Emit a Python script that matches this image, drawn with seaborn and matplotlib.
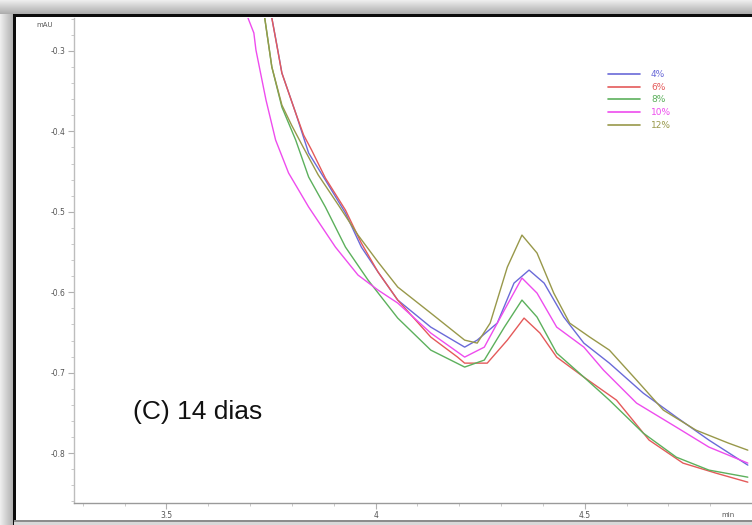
import numpy as np
import pandas as pd
import matplotlib
matplotlib.use("Agg")
import matplotlib.pyplot as plt
import seaborn as sns
from matplotlib.lines import Line2D

# ---- data (retention time in min, signal in mAU) ----
labels = ["4%", "6%", "8%", "10%", "12%"]
colors = ["#6a6ad8", "#e45a5a", "#5cb05c", "#ee4cee", "#98984a"]

x_4 = [3.752, 3.764, 3.776, 3.809, 3.840, 3.880, 3.928, 3.966, 4.006, 4.053, 4.132, 4.213,
       4.243, 4.291, 4.331, 4.367, 4.403, 4.450, 4.498, 4.559, 4.640, 4.719, 4.797, 4.890]
y_4 = [-0.259, -0.2925, -0.3274, -0.3771, -0.4269, -0.4604, -0.5015, -0.5438, -0.5749, -0.6097,
       -0.6433, -0.6682, -0.6595, -0.6383, -0.5886, -0.5724, -0.5886, -0.6308, -0.6632, -0.6881,
       -0.7254, -0.7552, -0.7838, -0.8149]

x_6 = [3.752, 3.776, 3.809, 3.828, 3.847, 3.880, 3.928, 3.966, 4.006, 4.053, 4.132, 4.196,
       4.213, 4.267, 4.315, 4.355, 4.393, 4.433, 4.498, 4.576, 4.654, 4.735, 4.814, 4.890]
y_6 = [-0.259, -0.3274, -0.3771, -0.4045, -0.4231, -0.4580, -0.4978, -0.5388, -0.5749, -0.6097,
       -0.6557, -0.6806, -0.6881, -0.6881, -0.6595, -0.6321, -0.6507, -0.6806, -0.7055, -0.7341,
       -0.7838, -0.8124, -0.8249, -0.8361]

x_8 = [3.735, 3.752, 3.776, 3.809, 3.840, 3.880, 3.928, 3.982, 4.053, 4.132, 4.213, 4.260,
       4.308, 4.350, 4.386, 4.433, 4.498, 4.559, 4.640, 4.719, 4.797, 4.890]
y_8 = [-0.259, -0.3199, -0.3697, -0.4107, -0.4567, -0.4940, -0.5438, -0.5848, -0.6321, -0.6719,
       -0.6930, -0.6843, -0.6433, -0.6097, -0.6308, -0.6756, -0.7055, -0.7341, -0.7751, -0.8050,
       -0.8211, -0.8299]

x_10 = [3.695, 3.709, 3.714, 3.726, 3.738, 3.761, 3.792, 3.840, 3.904, 3.958, 4.006, 4.053, 4.132,
        4.213, 4.260, 4.308, 4.350, 4.386, 4.433, 4.498, 4.545, 4.624, 4.719, 4.797, 4.890]
y_10 = [-0.259, -0.2776, -0.2988, -0.3299, -0.3609, -0.4107, -0.4517, -0.4940, -0.5438, -0.5786,
        -0.5973, -0.6134, -0.6507, -0.6806, -0.6682, -0.6221, -0.5823, -0.6010, -0.6433, -0.6682,
        -0.6968, -0.7378, -0.7677, -0.7925, -0.8124]

x_12 = [3.735, 3.752, 3.776, 3.799, 3.828, 3.863, 3.911, 3.958, 4.006, 4.053, 4.132, 4.213, 4.243,
        4.274, 4.315, 4.350, 4.386, 4.426, 4.464, 4.512, 4.559, 4.624, 4.688, 4.766, 4.844, 4.890]
y_12 = [-0.259, -0.3199, -0.3672, -0.3920, -0.4206, -0.4542, -0.4915, -0.5289, -0.5624, -0.5935,
        -0.6259, -0.6595, -0.6632, -0.6383, -0.5687, -0.5289, -0.5512, -0.6010, -0.6383, -0.6557,
        -0.6719, -0.7092, -0.7465, -0.7714, -0.7876, -0.7963]

x_ticks = [3.5, 4.0, 4.5]
x_ticklabels = ["3.5", "4", "4.5"]
y_ticks = [-0.3, -0.4, -0.5, -0.6, -0.7, -0.8]
y_ticklabels = ["-0.3", "-0.4", "-0.5", "-0.6", "-0.7", "-0.8"]

series = [(x_4, y_4), (x_6, y_6), (x_8, y_8), (x_10, y_10), (x_12, y_12)]
frames = []
for lab, (xs, ys) in zip(labels, series):
    frames.append(pd.DataFrame({"min": xs, "mAU": ys, "conc": lab}))
df = pd.concat(frames, ignore_index=True)
palette = dict(zip(labels, colors))

# ---- figure ----
sns.set_style("white")
W, H = 752, 525
fig = plt.figure(figsize=(W / 100, H / 100), dpi=100)

# screenshot-like frame background
bg = np.ones((H, W, 3))
for i in range(14):
    v = 0.93 - 0.25 * (i / 13.0)
    bg[i, :, :] = v
    bg[i:, i, :] = np.minimum(bg[i:, i, :], v)
bg[14:17, 14:, :] = 0.05
bg[14:, 13:16, :] = 0.05
bg[520:522, 14:, :] = 0.55
bg[522:, 14:, :] = 0.85
bax = fig.add_axes([0, 0, 1, 1])
bax.imshow(bg, aspect="auto", interpolation="nearest")
bax.axis("off")

L, R, T, B = 74, 752, 18, 503
ax = fig.add_axes([L / W, 1 - B / H, (R - L) / W, (B - T) / H])
ax.patch.set_alpha(0)

sns.lineplot(data=df, x="min", y="mAU", hue="conc", palette=palette,
             hue_order=labels, sort=False, estimator=None, linewidth=1.0, ax=ax, legend=False)

ax.set_xlim(3.279, 4.890)
ax.set_ylim(-0.862, -0.259)

ax.set_xticks(x_ticks)
ax.set_xticklabels(x_ticklabels)
ax.set_yticks(y_ticks)
ax.set_yticklabels(y_ticklabels)
ax.set_xticks(np.arange(3.3, 4.9, 0.1), minor=True)
ax.set_yticks(np.arange(-0.86, -0.259, 0.02), minor=True)
ax.tick_params(axis="both", which="major", direction="out", length=4, width=0.8,
               color="#b0b0b0", labelsize=5.5, labelcolor="#555555", pad=2)
ax.tick_params(axis="both", which="minor", direction="out", length=2.5, width=0.6,
               color="#c0c0c0")
ax.tick_params(axis="x", which="both", bottom=True)
ax.tick_params(axis="y", which="both", left=True)

for s in ["top", "right"]:
    ax.spines[s].set_visible(False)
ax.spines["left"].set_color("#bdbdbd")
ax.spines["left"].set_linewidth(1.0)
ax.spines["bottom"].set_color("#9a9a9a")
ax.spines["bottom"].set_linewidth(1.0)
ax.set_xlabel("")
ax.set_ylabel("")

ax.text(-0.043, 0.986, "mAU", transform=ax.transAxes, fontsize=5, color="#555555",
        ha="center", va="center")
ax.text(0.965, -0.025, "min", transform=ax.transAxes, fontsize=5, color="#555555",
        ha="center", va="center")

ax.text(0.087, 0.188, "(C) 14 dias", transform=ax.transAxes, fontsize=19,
        family="Liberation Sans", color="#111111", ha="left", va="center")

handles = [Line2D([0], [0], color=c, lw=1.2) for c in colors]
leg = ax.legend(handles, labels, loc="upper left", bbox_to_anchor=(0.787, 0.893),
                frameon=False, fontsize=6.5, handlelength=3.6, handletextpad=1.2,
                labelspacing=0.42, borderpad=0, borderaxespad=0, labelcolor=colors)

fig.savefig("out.png", dpi=100)
